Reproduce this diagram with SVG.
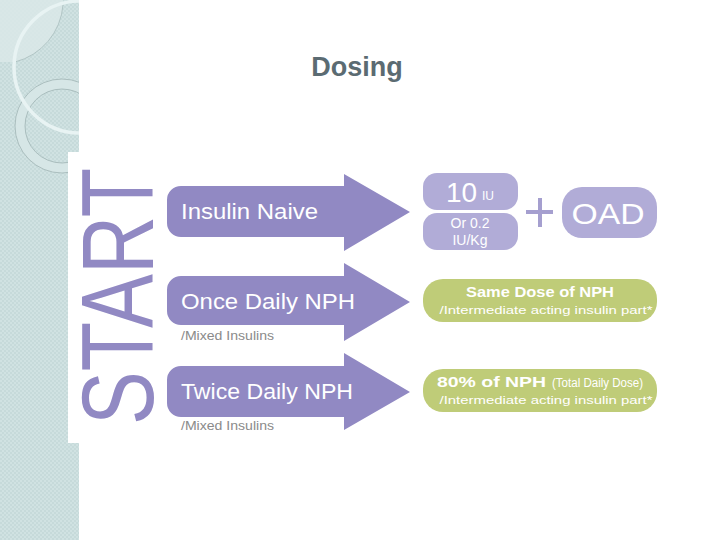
<svg xmlns="http://www.w3.org/2000/svg" width="720" height="540" viewBox="0 0 720 540">
<style>
.arrow{fill:#9189c3}
.lbl{font-family:"Liberation Sans",Arial,sans-serif;fill:#ffffff}
.sub{font-family:"Liberation Sans",Arial,sans-serif;fill:#8a8a8a;font-size:13px}
.pbox{fill:#b1acd7}
.gbox{fill:#bfcc78}
.gt{font-family:"Liberation Sans",Arial,sans-serif;fill:#ffffff}
</style>
<defs>
<pattern id="chk" width="4" height="4" patternUnits="userSpaceOnUse">
<rect width="4" height="4" fill="#c6dada"/>
<rect width="2" height="2" fill="#d0e2e2"/>
<rect x="2" y="2" width="2" height="2" fill="#d0e2e2"/>
</pattern>
<clipPath id="stripClip"><rect x="0" y="0" width="79" height="540"/></clipPath>
</defs>
<rect width="720" height="540" fill="#ffffff"/>
<g id="strip" clip-path="url(#stripClip)">
<rect x="0" y="0" width="79" height="540" fill="url(#chk)"/>
<path d="M0 0 H63 V5 A64 64 0 0 1 15 62 H0 Z" fill="#dbe9e9" opacity="0.8"/>
<path d="M15 62 A64 64 0 0 0 63 5" fill="none" stroke="#a8bcbc" stroke-width="0.8"/>
<circle cx="62" cy="126" r="42" fill="none" stroke="#d6e6e6" stroke-width="10"/>
<circle cx="62" cy="126" r="47" fill="none" stroke="#9fb4b4" stroke-width="0.8"/>
<circle cx="62" cy="126" r="37" fill="none" stroke="#9fb4b4" stroke-width="0.8"/>
<circle cx="80" cy="67" r="66" fill="none" stroke="#e8f3f3" stroke-width="3.5"/>
</g>
<rect x="68" y="152" width="20" height="291" fill="#ffffff"/>
<text x="357" y="76" text-anchor="middle" font-family="Liberation Sans, Arial, sans-serif" font-weight="bold" font-size="27" fill="#5b6b72">Dosing</text>
<g id="start">
<text transform="translate(153,425) rotate(-90)" x="0" y="0" font-family="Liberation Sans, Arial, sans-serif" font-size="102" fill="#9189c3" textLength="257" lengthAdjust="spacingAndGlyphs">START</text>
</g>
<g id="connectors">
<path class="arrow" d="M181 186 H344 V174 L410 212 L344 251 V237 H181 A14 14 0 0 1 167 223 V200 A14 14 0 0 1 181 186 Z"/>
<path class="arrow" d="M181 276 H344 V263 L410 302 L344 341 V325 H181 A14 14 0 0 1 167 311 V290 A14 14 0 0 1 181 276 Z"/>
<path class="arrow" d="M181 366 H344 V353 L410 392 L344 430 V417 H181 A14 14 0 0 1 167 403 V380 A14 14 0 0 1 181 366 Z"/>
</g>
<g id="insulin-naive">
<text class="lbl" x="181" y="219" font-size="22" textLength="137" lengthAdjust="spacingAndGlyphs">Insulin Naive</text>
</g>
<g id="once-daily">
<text class="lbl" x="181" y="309" font-size="22" textLength="174" lengthAdjust="spacingAndGlyphs">Once Daily NPH</text>
<text class="sub" x="181" y="340" textLength="93" lengthAdjust="spacingAndGlyphs">/Mixed Insulins</text>
</g>
<g id="twice-daily">
<text class="lbl" x="181" y="399" font-size="22" textLength="172" lengthAdjust="spacingAndGlyphs">Twice Daily NPH</text>
<text class="sub" x="181" y="430" textLength="93" lengthAdjust="spacingAndGlyphs">/Mixed Insulins</text>
</g>
<g id="dose-10iu">
<rect class="pbox" x="423" y="173" width="95" height="37" rx="14"/>
<text class="lbl" x="446" y="202" font-size="28">10</text>
<text class="lbl" x="482" y="200" font-size="12">IU</text>
</g>
<g id="dose-02">
<rect class="pbox" x="423" y="213" width="95" height="37" rx="14"/>
<text class="lbl" x="470" y="228" font-size="14" text-anchor="middle">Or 0.2</text>
<text class="lbl" x="470" y="245" font-size="14" text-anchor="middle">IU/Kg</text>
</g>
<g id="plus">
<path d="M526 212 H553 M540 198 V227" stroke="#a59fcf" stroke-width="4" fill="none"/>
</g>
<g id="oad">
<rect class="pbox" x="562" y="187" width="95" height="51" rx="20"/>
<text class="lbl" x="608" y="224" font-size="30" text-anchor="middle" textLength="73" lengthAdjust="spacingAndGlyphs">OAD</text>
</g>
<g id="same-dose">
<rect class="gbox" x="423" y="279" width="234" height="43" rx="20"/>
<text class="gt" x="540" y="297" font-size="15" font-weight="bold" text-anchor="middle" textLength="148" lengthAdjust="spacingAndGlyphs">Same Dose of NPH</text>
<text class="gt" x="546" y="314" font-size="11.5" text-anchor="middle" textLength="213" lengthAdjust="spacingAndGlyphs">/Intermediate acting insulin part*</text>
</g>
<g id="eighty">
<rect class="gbox" x="423" y="369" width="234" height="43" rx="20"/>
<text class="gt" x="437" y="387" font-size="15" font-weight="bold" textLength="109" lengthAdjust="spacingAndGlyphs">80% of NPH</text>
<text class="gt" x="552" y="387" font-size="12" textLength="91" lengthAdjust="spacingAndGlyphs">(Total Daily Dose)</text>
<text class="gt" x="546" y="404" font-size="11.5" text-anchor="middle" textLength="213" lengthAdjust="spacingAndGlyphs">/Intermediate acting insulin part*</text>
</g>
</svg>
